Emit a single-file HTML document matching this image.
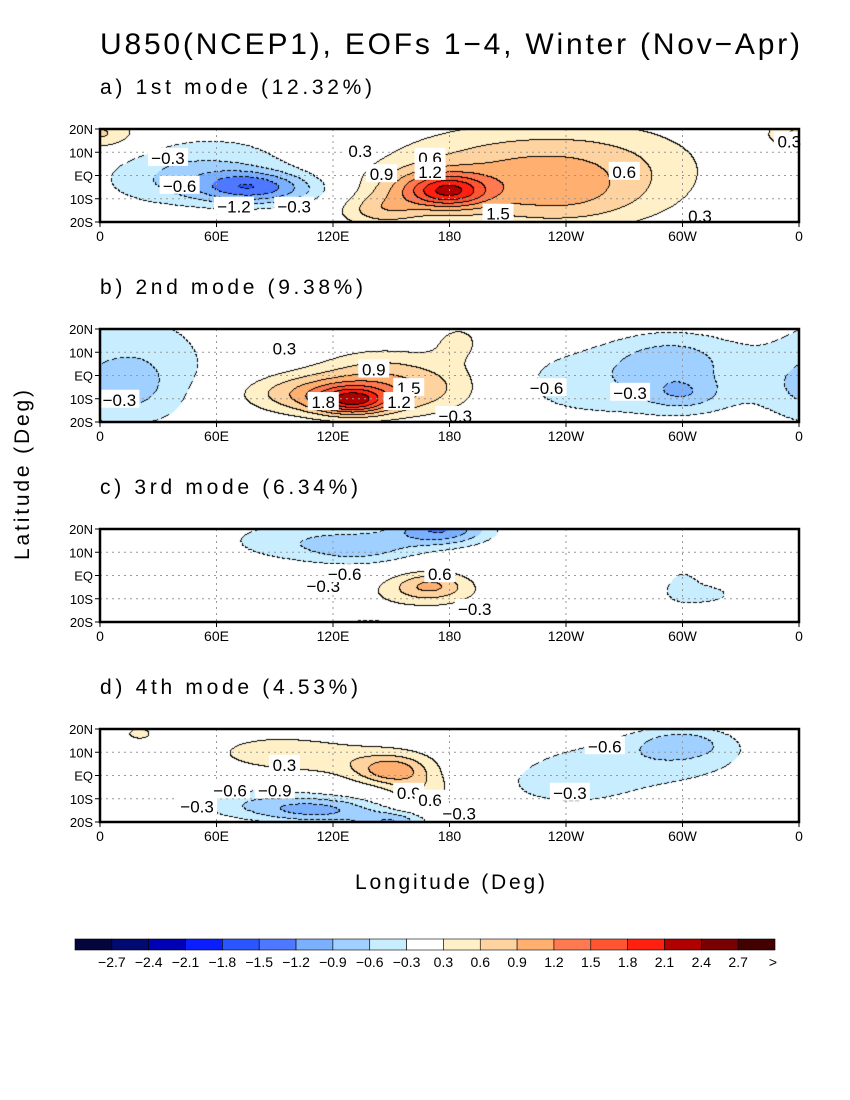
<!DOCTYPE html>
<html><head><meta charset="utf-8">
<style>
body{margin:0;background:#fff;}
#root{position:relative;width:850px;height:1100px;overflow:hidden;background:#fff;font-family:"Liberation Sans",sans-serif;}
canvas{position:absolute;left:100px;}
svg{position:absolute;left:0;top:0;}
</style></head>
<body>
<div id="root">
<canvas id="c0" width="699" height="93" style="top:129px"></canvas>
<canvas id="c1" width="699" height="93" style="top:329px"></canvas>
<canvas id="c2" width="699" height="93" style="top:529px"></canvas>
<canvas id="c3" width="699" height="93" style="top:729px"></canvas>
<svg id="ov" width="850" height="1100">
<text x="100" y="54" font-size="30" textLength="700" lengthAdjust="spacing">U850(NCEP1), EOFs 1−4, Winter (Nov−Apr)</text>
<text x="355" y="889" font-size="21" textLength="190" lengthAdjust="spacing">Longitude (Deg)</text>
<text transform="translate(29,560) rotate(-90)" font-size="21" textLength="170" lengthAdjust="spacing">Latitude (Deg)</text>
</svg>
</div>
<script>
// panel data: blobs [lon, lat, amplitude, lonWidth, latWidth]
const panelTitles = ["a) 1st mode (12.32%)","b) 2nd mode (9.38%)","c) 3rd mode (6.34%)","d) 4th mode (4.53%)"];
const titleWidths = [272,263,258,258];
const blobsA = [[75,-5,-1.0,18,5],[40,-3,-0.5,30,8],[60,8,-0.35,35,9],[100,-6,-0.45,18,5],[180,-7,1.2,14,5],[165,-5,0.5,20,6],[205,0,0.75,45,14],[260,3,0.5,40,14],[240,-12,0.3,30,8],[8,18,0.4,12,5],[355,18,0.4,10,5],[145,-15,0.6,15,5]];
const blobsB = [[20,3,-0.5,30,20],[10,-5,-0.35,15,8],[130,-11,1.3,13,4],[135,-7,0.9,28,7],[100,-8,0.5,25,6],[175,-3,0.45,25,10],[185,15,0.35,10,6],[265,-3,-0.5,50,12],[295,8,-0.5,22,8],[300,-8,-0.5,14,5],[140,5,0.3,20,6]];
const blobsC = [[175,20,-1.2,18,5],[135,12,-0.6,20,5],[100,15,-0.45,30,7],[170,-4,0.7,13,4],[165,-8,0.35,25,6],[310,-8,-0.4,15,4],[300,-3,-0.35,6,5],[140,-20,-0.35,20,3],[275,22,0.3,10,3]];
const blobsD = [[150,2,0.8,12,4],[140,6,0.45,28,6],[165,-6,0.5,12,5],[90,10,0.5,22,5],[115,-15,-0.85,22,4],[150,-20,-0.8,12,3],[80,-12,-0.5,25,5],[275,5,-0.45,45,9],[300,14,-0.6,18,5],[240,-5,-0.35,22,6],[20,18,0.35,10,4],[205,16,0.3,10,4]];
const labelsA = [["−0.3",35,8],["−0.6",41,-4],["−1.2",69,-13],["−0.3",100,-13],["0.3",134,11],["0.9",145,1],["0.6",170,8],["1.2",170,2],["1.5",205,-16],["0.6",270,2],["0.3",309,-17],["0.3",355,15]];
const labelsB = [["−0.3",10,-10],["0.3",95,12],["0.9",141,3],["1.5",159,-5],["1.8",115,-11],["1.2",154,-11],["−0.6",230,-5],["−0.3",273,-7],["−0.3",183,-17]];
const labelsC = [["−0.3",115,-4],["−0.6",126,1],["0.6",175,1],["−0.3",193,-14]];
const labelsD = [["0.3",95,5],["−0.6",67,-6],["−0.9",90,-6],["−0.3",50,-13],["0.9",159,-7],["0.6",170,-10],["−0.3",185,-16],["−0.3",242,-7],["−0.6",260,13]];
const levels = [-2.7,-2.4,-2.1,-1.8,-1.5,-1.2,-0.9,-0.6,-0.3,0.3,0.6,0.9,1.2,1.5,1.8,2.1,2.4,2.7];
const levelLabels = ["−2.7","−2.4","−2.1","−1.8","−1.5","−1.2","−0.9","−0.6","−0.3","0.3","0.6","0.9","1.2","1.5","1.8","2.1","2.4","2.7"];
const lonTicks = [0,60,120,180,240,300,360];
const lonTickLabels = ["0","60E","120E","180","120W","60W","0"];
const latTicks = [20,10,0,-10,-20];
const latTickLabels = ["20N","10N","EQ","10S","20S"];
const colors = ["#05053d","#000a70","#0000b4","#0a1eff","#2a55ff","#4d78ff","#7bb0ff","#a0d0ff","#c7edff","#ffffff","#fff0c8","#ffd39f","#ffb070","#ff7a50","#ff5530","#ff2010","#b00000","#780000","#420000"];

const blobsAll=[blobsA,blobsB,blobsC,blobsD], labelsAll=[labelsA,labelsB,labelsC,labelsD];
const tops=[129,329,529,729], X0=100, W=699, H=93;
const xs = lon => X0 + lon/360*W;
const ys = (lat,t) => t + (20-lat)/40*H;
const NS="http://www.w3.org/2000/svg", ov=document.getElementById('ov');
function mk(tag,attrs,txt){const e=document.createElementNS(NS,tag);for(const k in attrs)e.setAttribute(k,attrs[k]);if(txt!=null)e.textContent=txt;ov.appendChild(e);return e;}
function field(bl,lon,lat){let v=0;for(const b of bl){let d=lon-b[0];if(d>180)d-=360;if(d<-180)d+=360;v+=b[2]*Math.exp(-(d*d)/(2*b[3]*b[3])-((lat-b[1])**2)/(2*b[4]*b[4]));}return v;}
function lev(v){let i=0;while(i<levels.length&&v>=levels[i])i++;return i;}
blobsAll.forEach((bl,p)=>{
  const cv=document.getElementById('c'+p),ctx=cv.getContext('2d'),img=ctx.createImageData(W,H);
  const L=new Int8Array(W*H);
  for(let y=0;y<H;y++)for(let x=0;x<W;x++){L[y*W+x]=lev(field(bl,x/W*360,20-y/H*40));}
  for(let y=0;y<H;y++)for(let x=0;x<W;x++){
    const i=y*W+x,l=L[i];let c=colors[l];
    const edge=(x<W-1&&L[i+1]!==l)||(y<H-1&&L[i+W]!==l);
    let r=parseInt(c.substr(1,2),16),g=parseInt(c.substr(3,2),16),b=parseInt(c.substr(5,2),16);
    if(edge){const neg=Math.min(l,x<W-1?L[i+1]:l,y<H-1?L[i+W]:l)<9;if(!neg||((x+y)%6<4)){r=g=b=0;}}
    img.data[i*4]=r;img.data[i*4+1]=g;img.data[i*4+2]=b;img.data[i*4+3]=255;}
  ctx.putImageData(img,0,0);
  const t=tops[p];
  const title=mk('text',{x:100,y:t-35,'font-size':21,textLength:titleWidths[p],lengthAdjust:'spacing'},panelTitles[p]);
  
  
  latTicks.slice(1,4).forEach(la=>{const g=mk('line',{x1:X0,x2:X0+W,y1:ys(la,t),y2:ys(la,t),stroke:'#999','stroke-dasharray':'2,4'});
    
    });
  lonTicks.slice(1,6).forEach(lo=>{const g=mk('line',{x1:xs(lo),x2:xs(lo),y1:t,y2:t+H,stroke:'#999','stroke-dasharray':'2,4'});
    
    });
  labelsAll[p].forEach(lb=>{const x=xs(lb[1]),y=ys(lb[2],t);const w=lb[0].length*9+4;
    const r=mk('rect',{x:x-w/2,y:y-9,width:w,height:18,fill:'#fff'});
    
    
    const tx=mk('text',{x:x,y:y+7,'font-size':17,'text-anchor':'middle'},lb[0]);
    
    });
  const fr=mk('rect',{x:X0,y:t,width:W,height:H,fill:'none',stroke:'#000','stroke-width':2.5});
  
  
  lonTicks.forEach((lo,i)=>{const tk=mk('line',{x1:xs(lo),x2:xs(lo),y1:t+H,y2:t+H+5,stroke:'#000'});
    
    
    const tl=mk('text',{x:xs(lo),y:t+H+19,'font-size':14,'text-anchor':'middle'},lonTickLabels[i]);
    
    });
  latTicks.forEach((la,i)=>{const tk=mk('line',{x1:X0-5,x2:X0,y1:ys(la,t),y2:ys(la,t),stroke:'#000'});
    
    
    const tl=mk('text',{x:X0-7,y:ys(la,t)+5,'font-size':13,'text-anchor':'end'},latTickLabels[i]);
    
    });
});
const cbX=75,cbW=700/colors.length;
colors.forEach((c,i)=>{const r=mk('rect',{x:cbX+i*cbW,y:939,width:cbW,height:11,fill:c,stroke:'#000','stroke-width':0.6});
  
  });
levelLabels.forEach((s,i)=>{const t=mk('text',{x:cbX+(i+1)*cbW,y:967,'font-size':14,'text-anchor':'middle'},s);
  
  });
const gt=mk('text',{x:cbX+19*cbW-2,y:967,'font-size':14,'text-anchor':'middle'},'>');


</script>
</body></html>
